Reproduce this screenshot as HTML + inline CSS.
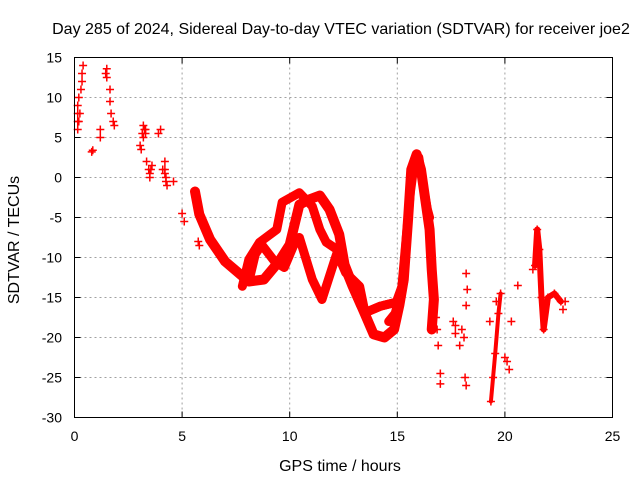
<!DOCTYPE html>
<html><head><meta charset="utf-8"><style>
body{margin:0;background:#fff;}
svg text{font-family:"Liberation Sans",sans-serif;font-size:14px;fill:#000;}
svg text.big{font-size:16px;}
</style></head><body>
<svg id="chart" width="640" height="480" viewBox="0 0 640 480">
<rect width="640" height="480" fill="#fff"/>
<text class="big" x="341" y="34" text-anchor="middle">Day 285 of 2024, Sidereal Day-to-day VTEC variation (SDTVAR) for receiver joe2</text>
<text class="big" x="340" y="471" text-anchor="middle">GPS time / hours</text>
<text class="big" x="0" y="0" text-anchor="middle" transform="translate(19,240) rotate(-90)">SDTVAR / TECUs</text>
<g id="grid"></g>
<g id="ticks"></g>
<g id="marks"></g>
<rect x="74.5" y="57.5" width="538" height="360" fill="none" stroke="#000"/>
</svg>
<script>
const xTicks=[0,5,10,15,20,25];
const yTicks=[15,10,5,0,-5,-10,-15,-20,-25,-30];
// continuous tracks (hours, TECU)
const trackMainT=[5.6,5.8,6.3,7.0,7.7,8.1,8.8,9.5,10.0,10.45,10.9,11.4,11.85,12.3,12.55,13.0,13.5,13.9,14.4,14.85,15.1,15.3,15.5,15.65,15.9,16.1,16.3,16.5,16.6,16.7,16.6];
const trackMainV=[-1.75,-4.6,-7.75,-10.5,-12.1,-13,-12.75,-10.5,-8.4,-3.4,-2.75,-2.25,-4,-7.1,-10.9,-14,-17.1,-19.6,-20,-19,-15.9,-12.75,-5.25,1,2.9,1,-2.75,-6.5,-11.5,-15.25,-19];
const trackLoopT=[7.8,8.1,8.6,9.4,9.65,10.45,11.05,11.4,11.7,12.2,12.45,12.9,13.3,13.5,14.2,14.95,15.3];
const trackLoopV=[-13.6,-10.25,-8.1,-6.5,-3.1,-1.9,-3.6,-6.5,-8.1,-9,-10.6,-13.6,-16,-16.9,-16.1,-15.6,-13];
const track2T=[8.1,8.4,8.7,9.3,9.75,10.3,10.45,11.05,11.5,12.2,12.6,13.25,13.5,14.2,14.95];
const track2V=[-13,-9.6,-8.4,-10.5,-11.25,-7.75,-7.5,-12.75,-15.25,-9.4,-11.9,-13.6,-16.9,-16.1,-15.6];
const trackRiseT=[14.6,14.9,15.2,15.4,15.6,15.8,16.0,16.2,16.4,16.5];
const trackRiseV=[-18,-17,-14,-8,-2,2,2.5,-1,-4,-5];
const track3T=[21.4,21.5,21.6,21.7,21.8,22.0,22.3,22.6];
const track3V=[-11,-6.5,-9,-15,-19,-15,-14.5,-15.5];
const track4T=[19.35,19.45,19.55,19.7,19.8];
const track4V=[-28,-25,-22,-17,-14.5];
// isolated points
const ptsT=[0.15,0.15,0.15,0.15,0.2,0.3,0.35,0.35,0.4,0.8,0.85,1.2,1.2,1.45,1.5,1.5,1.65,1.65,1.7,1.8,1.85,3.05,3.15,3.2,3.3,3.1,3.35,3.45,3.5,3.6,3.9,4.0,4.1,4.2,4.2,4.25,4.3,4.6,5.0,5.1,5.75,5.8,16.8,16.85,17.0,17.0,17.6,17.7,17.9,18.0,18.1,18.2,18.2,18.25,18.15,18.2,19.3,19.6,20.0,20.1,20.2,20.3,20.6,21.3,22.7,22.8,3.2,3.25,3.3,3.5,3.55,4.2,4.25,0.2,0.25,16.9,17.7];
const ptsV=[6,7,8,9,10,11,12,13,14,3.2,3.4,5,6,13,13.6,12.5,11,9.5,8,7,6.5,4,5.5,6.5,6,3.5,2,1,0.5,1.5,5.5,6,1,2,1,0,-1,-0.5,-4.5,-5.5,-8,-8.5,-17.5,-19,-24.5,-25.8,-18,-19.5,-21,-19,-20,-16,-12,-14,-25,-26,-18,-15.5,-22.5,-23,-24,-18,-13.5,-11.5,-16.5,-15.5,5,6,5.5,0,1,0.5,-0.5,7,8,-21,-18.5];
const X=t=>74.5+t*21.52, Y=v=>57.5+(15-v)*8;
const NS='http://www.w3.org/2000/svg';
const grid=document.getElementById('grid'),ticks=document.getElementById('ticks'),marks=document.getElementById('marks');
function mk(tag,attrs,parent){const e=document.createElementNS(NS,tag);for(const k in attrs)e.setAttribute(k,attrs[k]);parent.appendChild(e);return e;}
xTicks.forEach(t=>{const x=X(t);
 if(t>0&&t<25){const g=mk('line',{x1:x,y1:57.5,x2:x,y2:417.5,stroke:'#a0a0a0','stroke-dasharray':'2,3'},grid);}
 mk('line',{x1:x,y1:417.5,x2:x,y2:411.5,stroke:'#000'},ticks);mk('line',{x1:x,y1:57.5,x2:x,y2:63.5,stroke:'#000'},ticks);
 const l=mk('text',{x:x,y:441,'text-anchor':'middle'},ticks);l.textContent=t;
 });
yTicks.forEach(v=>{const y=Y(v);
 if(v<15&&v>-30){const g=mk('line',{x1:74.5,y1:y,x2:612.5,y2:y,stroke:'#a0a0a0','stroke-dasharray':'2,3'},grid);}
 mk('line',{x1:74.5,y1:y,x2:80.5,y2:y,stroke:'#000'},ticks);mk('line',{x1:612.5,y1:y,x2:606.5,y2:y,stroke:'#000'},ticks);
 const l=mk('text',{x:62,y:y+5,'text-anchor':'end'},ticks);l.textContent=v;
 });
function plus(t,v){const x=X(t),y=Y(v);
 const p=mk('path',{d:`M${x-4},${y}h8M${x},${y-4}v8`,stroke:'#f00','stroke-width':1.5},marks);
 }
function track(T,V,w){
 const pl=mk('polyline',{points:T.map((t,i)=>X(t)+','+Y(V[i])).join(' '),fill:'none',stroke:'#f00','stroke-width':w,'stroke-linejoin':'round','stroke-linecap':'round'},marks);
 
 T.forEach((t,i)=>plus(t,V[i]));}
track(trackMainT,trackMainV,10);
track(trackLoopT,trackLoopV,9);
track(track2T,track2V,9);
track(trackRiseT,trackRiseV,9);
track(track3T,track3V,6);
track(track4T,track4V,4);
ptsT.forEach((t,i)=>plus(t,ptsV[i]));
</script>
</body></html>
